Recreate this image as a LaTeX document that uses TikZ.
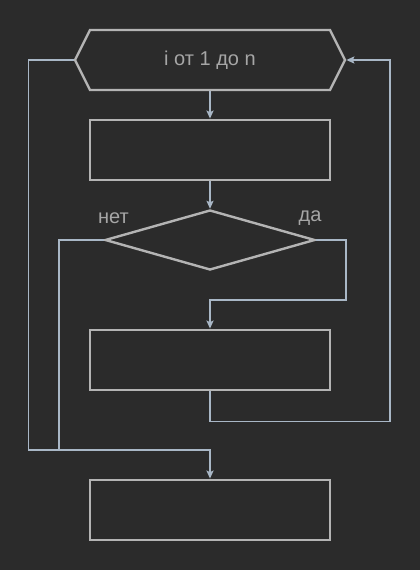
\documentclass[tikz,border=0pt]{standalone}
\usepackage{xcolor}
\usepackage{fontspec}
\setmainfont{Liberation Sans}
\usetikzlibrary{shapes.geometric, shapes.symbols, arrows.meta}

\definecolor{bg}{HTML}{2B2B2B}
\definecolor{edge}{HTML}{B4B4B4}
\definecolor{wire}{HTML}{A9B7C6}
\definecolor{txt}{HTML}{A6A6A6}

\begin{document}
\begin{tikzpicture}[x=1pt, y=-1pt,
    font=\fontsize{20}{24}\selectfont,
    block/.style={rectangle, draw=edge, line width=2.8pt, minimum width=240, minimum height=60, inner sep=0},
    wire/.style={draw=wire, line width=1.6pt},
    arrow/.style={wire, -{Stealth[length=8pt, width=7pt, inset=1.5pt]}}]
    \fill[bg] (0,0) rectangle (420,570);
    \useasboundingbox (0,0) rectangle (420,570);

    \node (loop) at (210, 60) [signal, signal to=east and west, signal pointer angle=126.87,
        draw=edge, line width=2.4pt, minimum width=270, minimum height=60, inner sep=0, text=txt] {i от 1 до n};
    \node (body) at (210, 150) [block] {};
    \node (cond) at (210, 240) [diamond, draw=edge, line width=2.4pt, minimum width=210, minimum height=60, inner sep=0] {};
    \node (act) at (210, 360) [block] {};
    \node (after) at (210, 510) [block] {};

    \node (no) at (113.5, 218) [text=txt] {нет};
    \node (yes) at (310, 218) [text=txt] {да};

    \draw[arrow] (loop.south) -- (body.north);
    \draw[arrow] (body.south) -- (cond.north);
    \draw[arrow] (cond.east) -- ++(30, 0) -- ++(0, 60) -| (act.north);
    \draw[arrow] (act.south) -- ++(0, 30) -- ++(180, 0) |- (loop.east);
    \draw[wire] (cond.west) -- ++(-45, 0) -- ++(0, 210);
    \draw[arrow] (loop.west) -- ++(-45, 0) -- ++(0, 390) -| (after.north);
\end{tikzpicture}
\end{document}
